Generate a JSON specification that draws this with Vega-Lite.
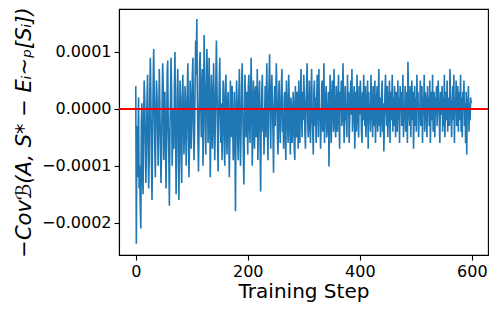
{
"$schema": "https://vega.github.io/schema/vega-lite/v6.json",
"autosize": "none",
"width": 369,
"height": 246,
"padding": {"left": 119, "top": 9, "right": 10, "bottom": 57},
"background": "white",
"config": {"view": {"stroke": "black", "strokeWidth": 1.1}, "font": "DejaVu Sans"},
"data": {"values": [
{"x":0,"y":0.4e-4},{"x":1,"y":-2.37e-4},{"x":2,"y":-0.3e-4},{"x":3,"y":-1.2e-4},{"x":4,"y":-0.6e-4},{"x":5,"y":0.2e-4},{"x":6,"y":-1.4e-4},{"x":7,"y":-1.0e-4},{"x":8,"y":-1.7e-4},{"x":9,"y":-2.1e-4},
{"x":10,"y":-0.2e-4},{"x":11,"y":0.1e-4},{"x":12,"y":-1.2e-4},{"x":13,"y":-1.5e-4},{"x":14,"y":-0.3e-4},{"x":15,"y":0.5e-4},{"x":16,"y":0.2e-4},{"x":17,"y":-0.6e-4},{"x":18,"y":-1.3e-4},{"x":19,"y":-0.8e-4},
{"x":20,"y":0.1e-4},{"x":21,"y":0.6e-4},{"x":22,"y":-0.4e-4},{"x":23,"y":-1.4e-4},{"x":24,"y":-0.9e-4},{"x":25,"y":0.3e-4},{"x":26,"y":0.9e-4},{"x":27,"y":0.2e-4},{"x":28,"y":-0.9e-4},{"x":29,"y":-1.6e-4},
{"x":30,"y":-0.5e-4},{"x":31,"y":0.4e-4},{"x":32,"y":1.05e-4},{"x":33,"y":0.3e-4},{"x":34,"y":-0.7e-4},{"x":35,"y":-1.2e-4},{"x":36,"y":-0.1e-4},{"x":37,"y":0.5e-4},{"x":38,"y":0.2e-4},{"x":39,"y":-0.4e-4},
{"x":40,"y":-1.0e-4},{"x":41,"y":-0.3e-4},{"x":42,"y":0.7e-4},{"x":43,"y":0.1e-4},{"x":44,"y":-0.6e-4},{"x":45,"y":-1.3e-4},{"x":46,"y":-0.8e-4},{"x":47,"y":0.1e-4},{"x":48,"y":0.8e-4},{"x":49,"y":0.4e-4},
{"x":50,"y":-0.9e-4},{"x":51,"y":-0.2e-4},{"x":52,"y":0.3e-4},{"x":53,"y":-0.5e-4},{"x":54,"y":-1.4e-4},{"x":55,"y":-0.6e-4},{"x":56,"y":0.6e-4},{"x":57,"y":0.85e-4},{"x":58,"y":-0.3e-4},{"x":59,"y":-0.8e-4},
{"x":60,"y":-1.7e-4},{"x":61,"y":-0.4e-4},{"x":62,"y":0.2e-4},{"x":63,"y":0.9e-4},{"x":64,"y":0.3e-4},{"x":65,"y":-1.0e-4},{"x":66,"y":-0.5e-4},{"x":67,"y":0.0},{"x":68,"y":-0.7e-4},{"x":69,"y":0.4e-4},
{"x":70,"y":1.0e-4},{"x":71,"y":-0.3e-4},{"x":72,"y":-1.5e-4},{"x":73,"y":-0.9e-4},{"x":74,"y":0.3e-4},{"x":75,"y":0.7e-4},{"x":76,"y":-0.2e-4},{"x":77,"y":-1.6e-4},{"x":78,"y":-0.6e-4},{"x":79,"y":0.5e-4},
{"x":80,"y":0.2e-4},{"x":81,"y":-0.9e-4},{"x":82,"y":-1.3e-4},{"x":83,"y":0.1e-4},{"x":84,"y":0.6e-4},{"x":85,"y":-0.1e-4},{"x":86,"y":-0.8e-4},{"x":87,"y":-0.4e-4},{"x":88,"y":0.4e-4},{"x":89,"y":0.1e-4},
{"x":90,"y":-1.0e-4},{"x":91,"y":-0.5e-4},{"x":92,"y":0.3e-4},{"x":93,"y":0.8e-4},{"x":94,"y":-0.2e-4},{"x":95,"y":-1.2e-4},{"x":96,"y":-0.6e-4},{"x":97,"y":0.5e-4},{"x":98,"y":0.2e-4},{"x":99,"y":-0.7e-4},
{"x":100,"y":-0.3e-4},{"x":101,"y":0.6e-4},{"x":102,"y":0.9e-4},{"x":103,"y":-0.1e-4},{"x":104,"y":-0.9e-4},{"x":105,"y":-0.4e-4},{"x":106,"y":0.5e-4},{"x":107,"y":1.2e-4},{"x":108,"y":0.6e-4},{"x":109,"y":1.58e-4},
{"x":110,"y":0.2e-4},{"x":111,"y":-0.5e-4},{"x":112,"y":-1.1e-4},{"x":113,"y":-0.3e-4},{"x":114,"y":0.8e-4},{"x":115,"y":1.0e-4},{"x":116,"y":0.1e-4},{"x":117,"y":-0.5e-4},{"x":118,"y":0.4e-4},{"x":119,"y":0.7e-4},
{"x":120,"y":-1.0e-4},{"x":121,"y":-0.4e-4},{"x":122,"y":1.3e-4},{"x":123,"y":0.6e-4},{"x":124,"y":-0.1e-4},{"x":125,"y":-0.8e-4},{"x":126,"y":0.2e-4},{"x":127,"y":1.05e-4},{"x":128,"y":0.5e-4},{"x":129,"y":-0.6e-4},
{"x":130,"y":-0.3e-4},{"x":131,"y":0.9e-4},{"x":132,"y":0.2e-4},{"x":133,"y":-1.2e-4},{"x":134,"y":-0.5e-4},{"x":135,"y":0.6e-4},{"x":136,"y":0.3e-4},{"x":137,"y":-0.7e-4},{"x":138,"y":-0.2e-4},{"x":139,"y":0.8e-4},
{"x":140,"y":0.1e-4},{"x":141,"y":-0.9e-4},{"x":142,"y":-0.3e-4},{"x":143,"y":0.5e-4},{"x":144,"y":1.2e-4},{"x":145,"y":0.4e-4},{"x":146,"y":-0.4e-4},{"x":147,"y":-1.1e-4},{"x":148,"y":-0.2e-4},{"x":149,"y":0.4e-4},
{"x":150,"y":0.9e-4},{"x":151,"y":-0.1e-4},{"x":152,"y":-0.6e-4},{"x":153,"y":0.1e-4},{"x":154,"y":-0.9e-4},{"x":155,"y":-0.3e-4},{"x":156,"y":0.5e-4},{"x":157,"y":0.2e-4},{"x":158,"y":-0.7e-4},{"x":159,"y":-1.0e-4},
{"x":160,"y":0.4e-4},{"x":161,"y":0.6e-4},{"x":162,"y":-0.4e-4},{"x":163,"y":-0.8e-4},{"x":164,"y":0.1e-4},{"x":165,"y":0.3e-4},{"x":166,"y":-0.3e-4},{"x":167,"y":-1.2e-4},{"x":168,"y":-0.5e-4},{"x":169,"y":0.5e-4},
{"x":170,"y":0.0},{"x":171,"y":-0.5e-4},{"x":172,"y":0.4e-4},{"x":173,"y":-0.2e-4},{"x":174,"y":-0.9e-4},{"x":175,"y":-0.6e-4},{"x":176,"y":0.3e-4},{"x":177,"y":-0.4e-4},{"x":178,"y":-1.8e-4},{"x":179,"y":-0.2e-4},
{"x":180,"y":0.5e-4},{"x":181,"y":0.1e-4},{"x":182,"y":-0.6e-4},{"x":183,"y":-0.9e-4},{"x":184,"y":0.2e-4},{"x":185,"y":0.7e-4},{"x":186,"y":-0.3e-4},{"x":187,"y":-1.0e-4},{"x":188,"y":-0.4e-4},{"x":189,"y":0.4e-4},
{"x":190,"y":0.8e-4},{"x":191,"y":0.1e-4},{"x":192,"y":-0.7e-4},{"x":193,"y":-1.33e-4},{"x":194,"y":-0.4e-4},{"x":195,"y":0.6e-4},{"x":196,"y":0.2e-4},{"x":197,"y":-0.5e-4},{"x":198,"y":0.3e-4},{"x":199,"y":-0.2e-4},
{"x":200,"y":-0.8e-4},{"x":201,"y":0.4e-4},{"x":202,"y":0.6e-4},{"x":203,"y":-0.3e-4},{"x":204,"y":-0.6e-4},{"x":205,"y":0.2e-4},{"x":206,"y":0.9e-4},{"x":207,"y":0.1e-4},{"x":208,"y":-1.0e-4},{"x":209,"y":-0.4e-4},
{"x":210,"y":0.5e-4},{"x":211,"y":-0.2e-4},{"x":212,"y":-0.7e-4},{"x":213,"y":0.3e-4},{"x":214,"y":0.4e-4},{"x":215,"y":-0.5e-4},{"x":216,"y":0.0},{"x":217,"y":0.7e-4},{"x":218,"y":-0.9e-4},{"x":219,"y":-0.3e-4},
{"x":220,"y":0.2e-4},{"x":221,"y":0.5e-4},{"x":222,"y":-0.6e-4},{"x":223,"y":-1.45e-4},{"x":224,"y":-0.2e-4},{"x":225,"y":0.3e-4},{"x":226,"y":0.6e-4},{"x":227,"y":-0.4e-4},{"x":228,"y":0.0},{"x":229,"y":-0.8e-4},
{"x":230,"y":-0.2e-4},{"x":231,"y":0.4e-4},{"x":232,"y":-0.5e-4},{"x":233,"y":0.2e-4},{"x":234,"y":0.8e-4},{"x":235,"y":-0.3e-4},{"x":236,"y":-0.9e-4},{"x":237,"y":0.1e-4},{"x":238,"y":0.5e-4},{"x":239,"y":0.96e-4},
{"x":240,"y":-0.2e-4},{"x":241,"y":-0.7e-4},{"x":242,"y":0.3e-4},{"x":243,"y":0.6e-4},{"x":244,"y":0.1e-4},{"x":245,"y":-0.4e-4},{"x":246,"y":-1.12e-4},{"x":247,"y":0.0},{"x":248,"y":0.4e-4},{"x":249,"y":-0.3e-4},
{"x":250,"y":0.2e-4},{"x":251,"y":0.8e-4},{"x":252,"y":0.3e-4},{"x":253,"y":-0.5e-4},{"x":254,"y":-0.8e-4},{"x":255,"y":0.1e-4},{"x":256,"y":0.5e-4},{"x":257,"y":-0.2e-4},{"x":258,"y":-0.6e-4},{"x":259,"y":0.0},
{"x":260,"y":0.4e-4},{"x":261,"y":0.7e-4},{"x":262,"y":-0.4e-4},{"x":263,"y":-0.1e-4},{"x":264,"y":-0.7e-4},{"x":265,"y":0.2e-4},{"x":266,"y":0.3e-4},{"x":267,"y":-0.5e-4},{"x":268,"y":-0.9e-4},{"x":269,"y":0.5e-4},
{"x":270,"y":0.1e-4},{"x":271,"y":-0.2e-4},{"x":272,"y":-0.6e-4},{"x":273,"y":0.6e-4},{"x":274,"y":0.2e-4},{"x":275,"y":-0.3e-4},{"x":276,"y":-0.8e-4},{"x":277,"y":0.2e-4},{"x":278,"y":0.0},{"x":279,"y":-0.6e-4},
{"x":280,"y":-0.4e-4},{"x":281,"y":0.3e-4},{"x":282,"y":0.1e-4},{"x":283,"y":-0.7e-4},{"x":284,"y":-0.9e-4},{"x":285,"y":0.4e-4},{"x":286,"y":-0.2e-4},{"x":287,"y":-0.5e-4},{"x":288,"y":0.3e-4},{"x":289,"y":0.0},
{"x":290,"y":-0.7e-4},{"x":291,"y":0.5e-4},{"x":292,"y":-0.3e-4},{"x":293,"y":-0.6e-4},{"x":294,"y":0.2e-4},{"x":295,"y":0.7e-4},{"x":296,"y":-0.1e-4},{"x":297,"y":-0.5e-4},{"x":298,"y":0.3e-4},{"x":299,"y":-0.2e-4},
{"x":300,"y":0.6e-4},{"x":301,"y":0.2e-4},{"x":302,"y":-0.4e-4},{"x":303,"y":-0.7e-4},{"x":304,"y":0.1e-4},{"x":305,"y":0.4e-4},{"x":306,"y":0.8e-4},{"x":307,"y":-0.2e-4},{"x":308,"y":-0.5e-4},{"x":309,"y":0.0},
{"x":310,"y":0.5e-4},{"x":311,"y":-0.3e-4},{"x":312,"y":-0.6e-4},{"x":313,"y":0.2e-4},{"x":314,"y":0.7e-4},{"x":315,"y":-0.1e-4},{"x":316,"y":-0.4e-4},{"x":317,"y":-0.8e-4},{"x":318,"y":0.3e-4},{"x":319,"y":0.5e-4},
{"x":320,"y":-0.3e-4},{"x":321,"y":0.2e-4},{"x":322,"y":-0.6e-4},{"x":323,"y":0.1e-4},{"x":324,"y":0.6e-4},{"x":325,"y":0.3e-4},{"x":326,"y":-0.5e-4},{"x":327,"y":0.7e-4},{"x":328,"y":-0.2e-4},{"x":329,"y":0.0},
{"x":330,"y":-0.7e-4},{"x":331,"y":-0.3e-4},{"x":332,"y":0.4e-4},{"x":333,"y":0.5e-4},{"x":334,"y":-0.4e-4},{"x":335,"y":0.1e-4},{"x":336,"y":0.8e-4},{"x":337,"y":-0.6e-4},{"x":338,"y":-0.1e-4},{"x":339,"y":0.2e-4},
{"x":340,"y":0.4e-4},{"x":341,"y":-0.5e-4},{"x":342,"y":-0.3e-4},{"x":343,"y":0.0},{"x":344,"y":0.3e-4},{"x":345,"y":-1.01e-4},{"x":346,"y":-0.2e-4},{"x":347,"y":0.6e-4},{"x":348,"y":0.2e-4},{"x":349,"y":-0.6e-4},
{"x":350,"y":-0.1e-4},{"x":351,"y":0.5e-4},{"x":352,"y":0.3e-4},{"x":353,"y":-0.4e-4},{"x":354,"y":0.7e-4},{"x":355,"y":0.1e-4},{"x":356,"y":-0.3e-4},{"x":357,"y":-0.5e-4},{"x":358,"y":0.4e-4},{"x":359,"y":0.0},
{"x":360,"y":-0.4e-4},{"x":361,"y":0.2e-4},{"x":362,"y":0.6e-4},{"x":363,"y":-0.2e-4},{"x":364,"y":-0.7e-4},{"x":365,"y":0.3e-4},{"x":366,"y":0.1e-4},{"x":367,"y":0.5e-4},{"x":368,"y":-0.3e-4},{"x":369,"y":-0.1e-4},
{"x":370,"y":0.8e-4},{"x":371,"y":0.2e-4},{"x":372,"y":-0.6e-4},{"x":373,"y":-0.2e-4},{"x":374,"y":0.4e-4},{"x":375,"y":-0.2e-4},{"x":376,"y":0.0},{"x":377,"y":-0.5e-4},{"x":378,"y":0.6e-4},{"x":379,"y":0.1e-4},
{"x":380,"y":0.3e-4},{"x":381,"y":-0.6e-4},{"x":382,"y":-0.2e-4},{"x":383,"y":0.2e-4},{"x":384,"y":0.5e-4},{"x":385,"y":-0.1e-4},{"x":386,"y":0.7e-4},{"x":387,"y":-0.4e-4},{"x":388,"y":-0.1e-4},{"x":389,"y":0.2e-4},
{"x":390,"y":0.4e-4},{"x":391,"y":-0.7e-4},{"x":392,"y":-0.2e-4},{"x":393,"y":0.3e-4},{"x":394,"y":-0.4e-4},{"x":395,"y":0.6e-4},{"x":396,"y":0.2e-4},{"x":397,"y":-0.2e-4},{"x":398,"y":-0.5e-4},{"x":399,"y":0.4e-4},
{"x":400,"y":-0.1e-4},{"x":401,"y":0.5e-4},{"x":402,"y":0.2e-4},{"x":403,"y":-0.4e-4},{"x":404,"y":-0.6e-4},{"x":405,"y":0.3e-4},{"x":406,"y":-0.2e-4},{"x":407,"y":0.6e-4},{"x":408,"y":0.1e-4},{"x":409,"y":-0.3e-4},
{"x":410,"y":0.4e-4},{"x":411,"y":-0.5e-4},{"x":412,"y":-0.1e-4},{"x":413,"y":0.2e-4},{"x":414,"y":0.5e-4},{"x":415,"y":-0.7e-4},{"x":416,"y":0.3e-4},{"x":417,"y":-0.2e-4},{"x":418,"y":0.1e-4},{"x":419,"y":-0.4e-4},
{"x":420,"y":0.6e-4},{"x":421,"y":0.2e-4},{"x":422,"y":-0.1e-4},{"x":423,"y":-0.5e-4},{"x":424,"y":0.4e-4},{"x":425,"y":-0.3e-4},{"x":426,"y":0.0},{"x":427,"y":0.5e-4},{"x":428,"y":-0.6e-4},{"x":429,"y":-0.2e-4},
{"x":430,"y":0.2e-4},{"x":431,"y":0.4e-4},{"x":432,"y":-0.4e-4},{"x":433,"y":0.1e-4},{"x":434,"y":0.7e-4},{"x":435,"y":-0.3e-4},{"x":436,"y":0.2e-4},{"x":437,"y":-0.5e-4},{"x":438,"y":-0.2e-4},{"x":439,"y":0.3e-4},
{"x":440,"y":0.5e-4},{"x":441,"y":-0.4e-4},{"x":442,"y":0.1e-4},{"x":443,"y":-0.75e-4},{"x":444,"y":-0.2e-4},{"x":445,"y":0.3e-4},{"x":446,"y":0.6e-4},{"x":447,"y":0.0},{"x":448,"y":-0.3e-4},{"x":449,"y":0.4e-4},
{"x":450,"y":-0.5e-4},{"x":451,"y":-0.1e-4},{"x":452,"y":0.2e-4},{"x":453,"y":0.5e-4},{"x":454,"y":-0.6e-4},{"x":455,"y":0.3e-4},{"x":456,"y":-0.2e-4},{"x":457,"y":0.1e-4},{"x":458,"y":0.6e-4},{"x":459,"y":-0.4e-4},
{"x":460,"y":0.2e-4},{"x":461,"y":-0.3e-4},{"x":462,"y":0.4e-4},{"x":463,"y":0.1e-4},{"x":464,"y":-0.5e-4},{"x":465,"y":0.3e-4},{"x":466,"y":0.0},{"x":467,"y":-0.4e-4},{"x":468,"y":0.5e-4},{"x":469,"y":-0.2e-4},
{"x":470,"y":0.2e-4},{"x":471,"y":-0.6e-4},{"x":472,"y":0.4e-4},{"x":473,"y":0.1e-4},{"x":474,"y":0.3e-4},{"x":475,"y":-0.3e-4},{"x":476,"y":0.1e-4},{"x":477,"y":0.6e-4},{"x":478,"y":-0.5e-4},{"x":479,"y":-0.1e-4},
{"x":480,"y":-0.2e-4},{"x":481,"y":0.4e-4},{"x":482,"y":-0.4e-4},{"x":483,"y":0.1e-4},{"x":484,"y":0.3e-4},{"x":485,"y":-0.6e-4},{"x":486,"y":0.83e-4},{"x":487,"y":0.2e-4},{"x":488,"y":-0.1e-4},{"x":489,"y":-0.3e-4},
{"x":490,"y":0.4e-4},{"x":491,"y":-0.5e-4},{"x":492,"y":0.0},{"x":493,"y":0.5e-4},{"x":494,"y":-0.2e-4},{"x":495,"y":0.3e-4},{"x":496,"y":-0.7e-4},{"x":497,"y":-0.1e-4},{"x":498,"y":0.4e-4},{"x":499,"y":-0.3e-4},
{"x":500,"y":0.2e-4},{"x":501,"y":-0.4e-4},{"x":502,"y":0.6e-4},{"x":503,"y":0.1e-4},{"x":504,"y":0.3e-4},{"x":505,"y":-0.5e-4},{"x":506,"y":-0.1e-4},{"x":507,"y":-0.2e-4},{"x":508,"y":0.5e-4},{"x":509,"y":-0.3e-4},
{"x":510,"y":0.0},{"x":511,"y":0.4e-4},{"x":512,"y":-0.6e-4},{"x":513,"y":0.2e-4},{"x":514,"y":-0.1e-4},{"x":515,"y":0.6e-4},{"x":516,"y":-0.4e-4},{"x":517,"y":0.3e-4},{"x":518,"y":0.2e-4},{"x":519,"y":-0.1e-4},
{"x":520,"y":-0.5e-4},{"x":521,"y":0.4e-4},{"x":522,"y":-0.1e-4},{"x":523,"y":0.2e-4},{"x":524,"y":-0.3e-4},{"x":525,"y":0.5e-4},{"x":526,"y":-0.6e-4},{"x":527,"y":-0.1e-4},{"x":528,"y":0.3e-4},{"x":529,"y":-0.2e-4},
{"x":530,"y":0.6e-4},{"x":531,"y":-0.4e-4},{"x":532,"y":0.0},{"x":533,"y":0.3e-4},{"x":534,"y":-0.5e-4},{"x":535,"y":0.2e-4},{"x":536,"y":-0.1e-4},{"x":537,"y":0.4e-4},{"x":538,"y":-0.3e-4},{"x":539,"y":0.1e-4},
{"x":540,"y":0.5e-4},{"x":541,"y":0.1e-4},{"x":542,"y":-0.2e-4},{"x":543,"y":-0.6e-4},{"x":544,"y":0.3e-4},{"x":545,"y":-0.1e-4},{"x":546,"y":0.0},{"x":547,"y":0.4e-4},{"x":548,"y":-0.4e-4},{"x":549,"y":0.2e-4},
{"x":550,"y":-0.3e-4},{"x":551,"y":0.6e-4},{"x":552,"y":-0.5e-4},{"x":553,"y":0.1e-4},{"x":554,"y":0.3e-4},{"x":555,"y":-0.2e-4},{"x":556,"y":0.5e-4},{"x":557,"y":-0.4e-4},{"x":558,"y":0.0},{"x":559,"y":0.2e-4},
{"x":560,"y":-0.3e-4},{"x":561,"y":0.7e-4},{"x":562,"y":0.2e-4},{"x":563,"y":-0.1e-4},{"x":564,"y":-0.5e-4},{"x":565,"y":0.1e-4},{"x":566,"y":0.4e-4},{"x":567,"y":-0.2e-4},{"x":568,"y":0.6e-4},{"x":569,"y":-0.6e-4},
{"x":570,"y":0.2e-4},{"x":571,"y":-0.1e-4},{"x":572,"y":0.5e-4},{"x":573,"y":-0.3e-4},{"x":574,"y":0.0},{"x":575,"y":0.4e-4},{"x":576,"y":-0.4e-4},{"x":577,"y":0.3e-4},{"x":578,"y":-0.2e-4},{"x":579,"y":0.1e-4},
{"x":580,"y":0.6e-4},{"x":581,"y":-0.4e-4},{"x":582,"y":0.2e-4},{"x":583,"y":-0.5e-4},{"x":584,"y":0.3e-4},{"x":585,"y":0.0},{"x":586,"y":0.5e-4},{"x":587,"y":-0.3e-4},{"x":588,"y":0.1e-4},{"x":589,"y":-0.6e-4},
{"x":590,"y":0.3e-4},{"x":591,"y":-0.8e-4},{"x":592,"y":0.2e-4},{"x":593,"y":-0.1e-4},{"x":594,"y":0.4e-4},{"x":595,"y":-0.4e-4},{"x":596,"y":0.1e-4},{"x":597,"y":-0.2e-4},{"x":598,"y":0.2e-4},{"x":599,"y":0.1e-4}
]},
"layer": [
{"mark": {"type": "line", "color": "#1f77b4", "strokeWidth": 1.6, "clip": true},
 "encoding": {
  "x": {"field": "x", "type": "quantitative", "scale": {"domain": [-29.95, 628.95], "nice": false, "zero": false},
   "axis": {"values": [0, 200, 400, 600], "grid": false, "title": "Training Step", "titleFont": "DejaVu Sans", "titleFontSize": 20, "titleFontWeight": "normal", "titleColor": "black", "titlePadding": 2,
    "labelFont": "DejaVu Sans", "labelFontSize": 16, "labelColor": "black", "labelPadding": 3, "tickSize": 5, "tickColor": "black", "tickWidth": 1.1, "domainColor": "black", "domainWidth": 1.1, "labelFlush": false}},
  "y": {"field": "y", "type": "quantitative", "scale": {"domain": [-2.567e-4, 1.755e-4], "nice": false, "zero": false},
   "axis": {"values": [-2e-4, -1e-4, 0, 1e-4], "format": ".4f", "grid": false, "title": "−Covℬ(A, S* − Eᵢ∼ₚ[Sᵢ])", "titleFont": "DejaVu Sans", "titleFontSize": 21, "titleFontWeight": "normal", "titleFontStyle": "italic", "titleColor": "black", "titlePadding": 7,
    "labelFont": "DejaVu Sans", "labelFontSize": 16, "labelColor": "black", "labelPadding": 3, "tickSize": 5, "tickColor": "black", "tickWidth": 1.1, "domainColor": "black", "domainWidth": 1.1, "labelFlush": false}}
 }},
{"mark": {"type": "rule", "color": "red", "strokeWidth": 1.6},
 "encoding": {"y": {"datum": 0, "type": "quantitative"}}}
]
}
